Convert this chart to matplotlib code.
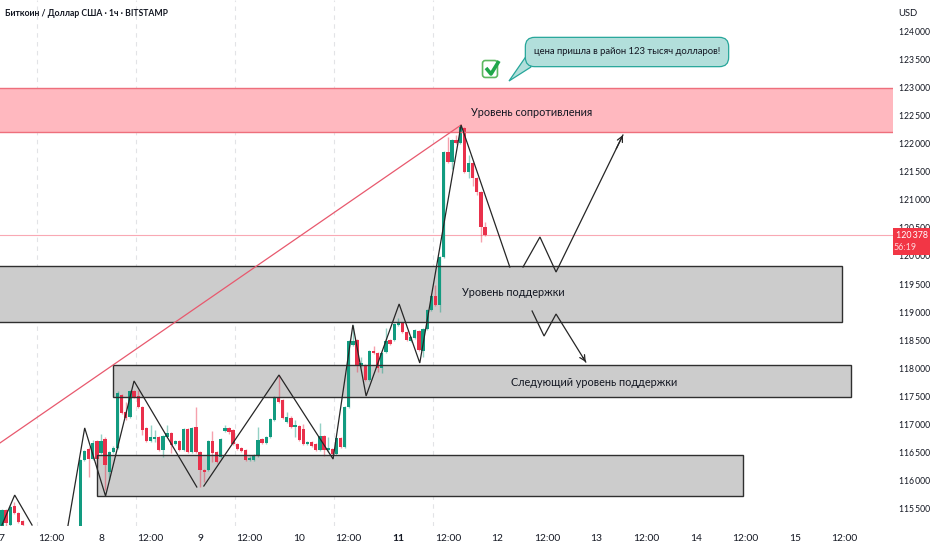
import matplotlib
matplotlib.use('Agg')
import matplotlib.pyplot as plt
from matplotlib.lines import Line2D
from matplotlib.patches import FancyBboxPatch, Polygon, Rectangle

# --- SETTINGS ---
W, H = 932, 550
AXES_RIGHT, AXES_BOTTOM = 893, 526
FONT = ['Lato', 'Roboto', 'DejaVu Sans']
UP = '#129b80'
DOWN = '#e9304b'
INK = '#131722'
GREY_FILL = '#cccccc'
plt.rcParams['font.family'] = FONT

# candles, hours counted from the start of day 8
hours = [-24, -23, -22, -21, -20, -19] + list(range(-5, 94))
opens = [114900, 115460, 115200, 115530, 115410, 115270,
         114990, 116360, 116555, 116375, 116695, 116480, 116730, 116145, 116500, 116570,
         117520, 117215, 117125, 117590, 117500, 117305, 116930, 116695, 116730, 116770,
         116535, 116770, 116840, 116640, 116695, 116535, 116910, 116500, 116945, 116500,
         116180, 116180, 116695, 116500, 116410, 116875, 116930, 116890, 116640, 116570,
         116535, 116360, 116360, 116430, 116730, 116660, 116770, 117070, 117480, 117430,
         117035, 117105, 116945, 116965, 116910, 116640, 116680, 116640, 116535, 116785,
         116535, 116555, 116465, 116750, 116590, 117305, 118410, 118500, 118035, 118050,
         117785, 118305, 118270, 118000, 118285, 118500, 118500, 118770, 118800, 118640,
         118480, 118535, 118660, 118305, 118700, 119035, 119285, 119125, 119980, 121860,
         121680, 122070, 122020, 122285, 121500, 121660, 121390, 121140, 120520]
closes = [115460, 115230, 115520, 115410, 115250, 115200,
          116360, 116520, 116375, 116660, 116375, 116695, 116270, 116500, 116570, 117555,
          117195, 117105, 117590, 117480, 117305, 116890, 116695, 116770, 116770, 116535,
          116785, 116840, 116625, 116695, 116535, 116910, 116500, 116930, 116500, 116180,
          116145, 116695, 116480, 116320, 116730, 116930, 116855, 116640, 116555, 116520,
          116360, 116395, 116445, 116715, 116660, 116770, 117090, 117480, 117390, 117105,
          117125, 116945, 116980, 116715, 116640, 116680, 116610, 116535, 116785, 116535,
          116570, 116465, 116750, 116590, 117305, 118480, 118480, 118050, 118090, 117785,
          118305, 118270, 118000, 118270, 118480, 118430, 118785, 118800, 118640, 118500,
          118555, 118680, 118320, 118700, 119035, 119285, 119125, 119980, 121860, 121680,
          122070, 122020, 122300, 121500, 121660, 121390, 121140, 120520, 120378]
highs = [115480, 115480, 115560, 115600, 115430, 115290,
         116380, 116540, 116590, 116720, 116720, 116820, 116760, 116520, 116600, 117590,
         117540, 117400, 117610, 117610, 117600, 117320, 116950, 116980, 116890, 116790,
         116800, 116980, 116860, 116710, 116710, 116930, 116930, 116950, 117305, 116520,
         116200, 116715, 116875, 116520, 116750, 116980, 116950, 116910, 116660, 116590,
         116555, 116420, 116470, 116945, 116750, 116790, 117110, 117500, 117875, 117450,
         117215, 117140, 117070, 116985, 117000, 116700, 116700, 116660, 117020, 116805,
         116770, 116575, 116770, 116770, 117325, 118500, 118770, 118520, 118195, 118070,
         118325, 118395, 118290, 118290, 118715, 118520, 118805, 118900, 118820, 118660,
         118575, 118700, 118680, 118720, 119055, 119305, 119480, 120000, 121880, 122125,
         122090, 122160, 122340, 122305, 121800, 121680, 121410, 121160, 120610]
lows = [114900, 115150, 115180, 115390, 115230, 115170,
        114970, 116340, 116050, 116350, 116230, 116460, 115820, 116000, 116480, 116550,
        117170, 117080, 117100, 117460, 117280, 116800, 116670, 116680, 116680, 116510,
        116410, 116750, 116480, 116620, 116510, 116520, 116480, 116480, 116480, 115875,
        115965, 116160, 116320, 116300, 116390, 116850, 116830, 116620, 116530, 116500,
        116340, 116340, 116340, 116410, 116640, 116640, 116750, 117050, 117370, 117085,
        117015, 116925, 116770, 116695, 116620, 116620, 116590, 116515, 116515, 116430,
        116500, 116445, 116445, 116570, 116570, 117285, 118390, 117930, 118015, 117765,
        117765, 118250, 117930, 117910, 118265, 118410, 118480, 118750, 118620, 118480,
        118460, 118515, 118300, 118200, 118680, 119015, 119105, 119000, 119960, 121660,
        121555, 122000, 122000, 121480, 121390, 121250, 121090, 120250, 120360]

# horizontal zones: left hour, right hour, top price, bottom price
zone_left = [-27.0, -27.0, 2.9, -1.0]
zone_right = [195.0, 179.4, 181.6, 155.4]
zone_top = [123000, 119820, 118053, 116446]
zone_bottom = [122215, 118820, 117482, 115714]

# hand drawn zigzags
zig_a_x = [-24.0, -20.9, -16.7]
zig_a_y = [115196, 115731, 115196]
zig_b_x = [-8.2, -3.95, 1.1, 8.0, 23.2]
zig_b_y = [115100, 116930, 115714, 117768, 115875]
zig_c_x = [24.9, 43.1, 56.2, 61.0, 64.2, 72.2, 77.2, 87.2, 99.0]
zig_c_y = [115893, 117875, 116375, 118770, 117500, 119143, 118090, 122339, 119803]
zig_d_x = [102.2, 106.3, 110.2, 126.4]
zig_d_y = [119803, 120339, 119714, 122160]
zig_e_x = [104.4, 107.3, 110.2, 117.4]
zig_e_y = [119018, 118571, 118964, 118107]

trend_x = [-24.5, 87.2]
trend_y = [116660, 122339]

separators = [-15.5, 8.5, 32.5, 56.5, 80.5]
last_price = 120378

x_ticks = list(range(-24, 181, 12))
x_labels = ['7', '12:00', '8', '12:00', '9', '12:00', '10', '12:00', '11', '12:00',
            '12', '12:00', '13', '12:00', '14', '12:00', '15', '12:00']
y_ticks = list(range(115500, 124001, 500))


def fx(x):
    return x / W


def fy(y):
    return 1 - y / H


fig = plt.figure(figsize=(W / 100, H / 100), dpi=100, facecolor='white')
ax = fig.add_axes([0, 1 - AXES_BOTTOM / H, AXES_RIGHT / W, AXES_BOTTOM / H])
ax.set_xlim(-24.46, 191.8)
ax.set_ylim(115179, 124571)
for side in ax.spines.values():
    side.set_visible(False)

ax.set_xticks(x_ticks)
ax.set_xticklabels(x_labels, fontsize=7.4, color=INK)
ax.get_xticklabels()[8].set_fontweight('bold')
ax.yaxis.tick_right()
ax.set_yticks(y_ticks)
ax.set_yticklabels([f'{v // 1000}\u2009{v % 1000:03d}' for v in y_ticks], fontsize=6.2, color=INK)
ax.tick_params(axis='x', length=0, pad=6)
ax.tick_params(axis='y', length=0, pad=4.2)

for s in separators:
    ax.axvline(s, color='#e2e3e6', lw=0.8, ls=(0, (4, 4)), zorder=0)

# zones: fill under the candles, outline over them
for i in range(4):
    width = zone_right[i] - zone_left[i]
    height = zone_top[i] - zone_bottom[i]
    fill = '#ffb8bf' if i == 0 else GREY_FILL
    edge = '#ee6f7c' if i == 0 else '#2f2f2f'
    ax.add_patch(Rectangle((zone_left[i], zone_bottom[i]), width, height, fc=fill, ec='none', zorder=1))
    ax.add_patch(Rectangle((zone_left[i], zone_bottom[i]), width, height, fc='none', ec=edge, lw=1.0, zorder=4))

ax.axhline(last_price, color='#f9a8b4', lw=0.8, zorder=1.5)

# candles
for h, o, c, hi, lo in zip(hours, opens, closes, highs, lows):
    col = UP if c >= o else DOWN
    ax.vlines(h, lo, hi, color=col, lw=1.0, alpha=0.45, zorder=2)
    ax.bar(h, abs(c - o), bottom=min(o, c), width=0.8, color=col, lw=0, zorder=3)

ax.plot(trend_x, trend_y, color='#e8596e', lw=0.9, zorder=5)

for xs, ys in [(zig_a_x, zig_a_y), (zig_b_x, zig_b_y), (zig_c_x, zig_c_y), (zig_d_x, zig_d_y), (zig_e_x, zig_e_y)]:
    ax.plot(xs, ys, color='#262626', lw=0.9, zorder=6, solid_joinstyle='miter')
# only the head: start the arrow a little before the end of the line
for xs, ys in [(zig_d_x, zig_d_y), (zig_e_x, zig_e_y)]:
    ax.annotate('', xy=(xs[-1], ys[-1]),
                xytext=(xs[-1] - 0.1 * (xs[-1] - xs[-2]), ys[-1] - 0.1 * (ys[-1] - ys[-2])), zorder=6,
                arrowprops=dict(arrowstyle='->', color='#262626', lw=0.9, mutation_scale=10,
                                shrinkA=0, shrinkB=0))

# labels on zones
fig.text(fx(532), fy(112), 'Уровень сопротивления', fontsize=7.8, color=INK, ha='center', va='center', zorder=10)
fig.text(fx(513), fy(292), 'Уровень поддержки', fontsize=7.8, color=INK, ha='center', va='center', zorder=10)
fig.text(fx(594), fy(382), 'Следующий уровень поддержки', fontsize=7.8, color=INK, ha='center', va='center', zorder=10)

fig.text(fx(5), fy(14), 'Биткоин / Доллар США · 1ч · BITSTAMP', fontsize=6.2, fontweight='bold',
         color=INK, ha='left', va='center')
fig.text(fx(908), fy(14), 'USD', fontsize=6.8, color=INK, ha='center', va='center')

# callout
tail = Polygon([(fx(527), fy(55)), (fx(509), fy(81)), (fx(531), fy(67))], closed=True,
               transform=fig.transFigure, fc='#b2dfdb', ec='#26a69a', lw=0.9, zorder=7)
fig.add_artist(tail)
box = FancyBboxPatch((fx(530), fy(62)), 194 / W, 20 / H, boxstyle='round,pad=0.005,rounding_size=0.01',
                     mutation_aspect=W / H, transform=fig.transFigure, fc='#b2dfdb', ec='#26a69a', lw=0.9, zorder=8)
fig.add_artist(box)
fig.text(fx(627), fy(52), 'цена пришла в район 123 тысяч долларов!', fontsize=6.8, color=INK,
         ha='center', va='center', zorder=9)

# check box
check_box = FancyBboxPatch((fx(483), fy(77)), 14 / W, 16 / H, boxstyle='round,pad=0.0005,rounding_size=0.003',
                           mutation_aspect=W / H, transform=fig.transFigure, fc='white', ec='#5cb860', lw=1.2, zorder=7)
fig.add_artist(check_box)
fig.add_artist(Line2D([fx(486), fx(491), fx(499)], [fy(68), fy(74), fy(61)], transform=fig.transFigure,
                      color='#1fa64a', lw=2.6, zorder=8, solid_capstyle='butt'))

# price tag on the scale
fig.add_artist(Rectangle((fx(893), fy(255)), 37 / W, 27 / H, transform=fig.transFigure, fc='#f23645', ec='none', zorder=8))
fig.text(fx(912), fy(236), '120\u2009378', fontsize=6.4, color='white', ha='center', va='center', zorder=9)
fig.text(fx(905), fy(248), '56:19', fontsize=6.4, color='#ffd6da', ha='center', va='center', zorder=9)

fig.savefig('out.png', dpi=100, facecolor='white')
plt.close(fig)
